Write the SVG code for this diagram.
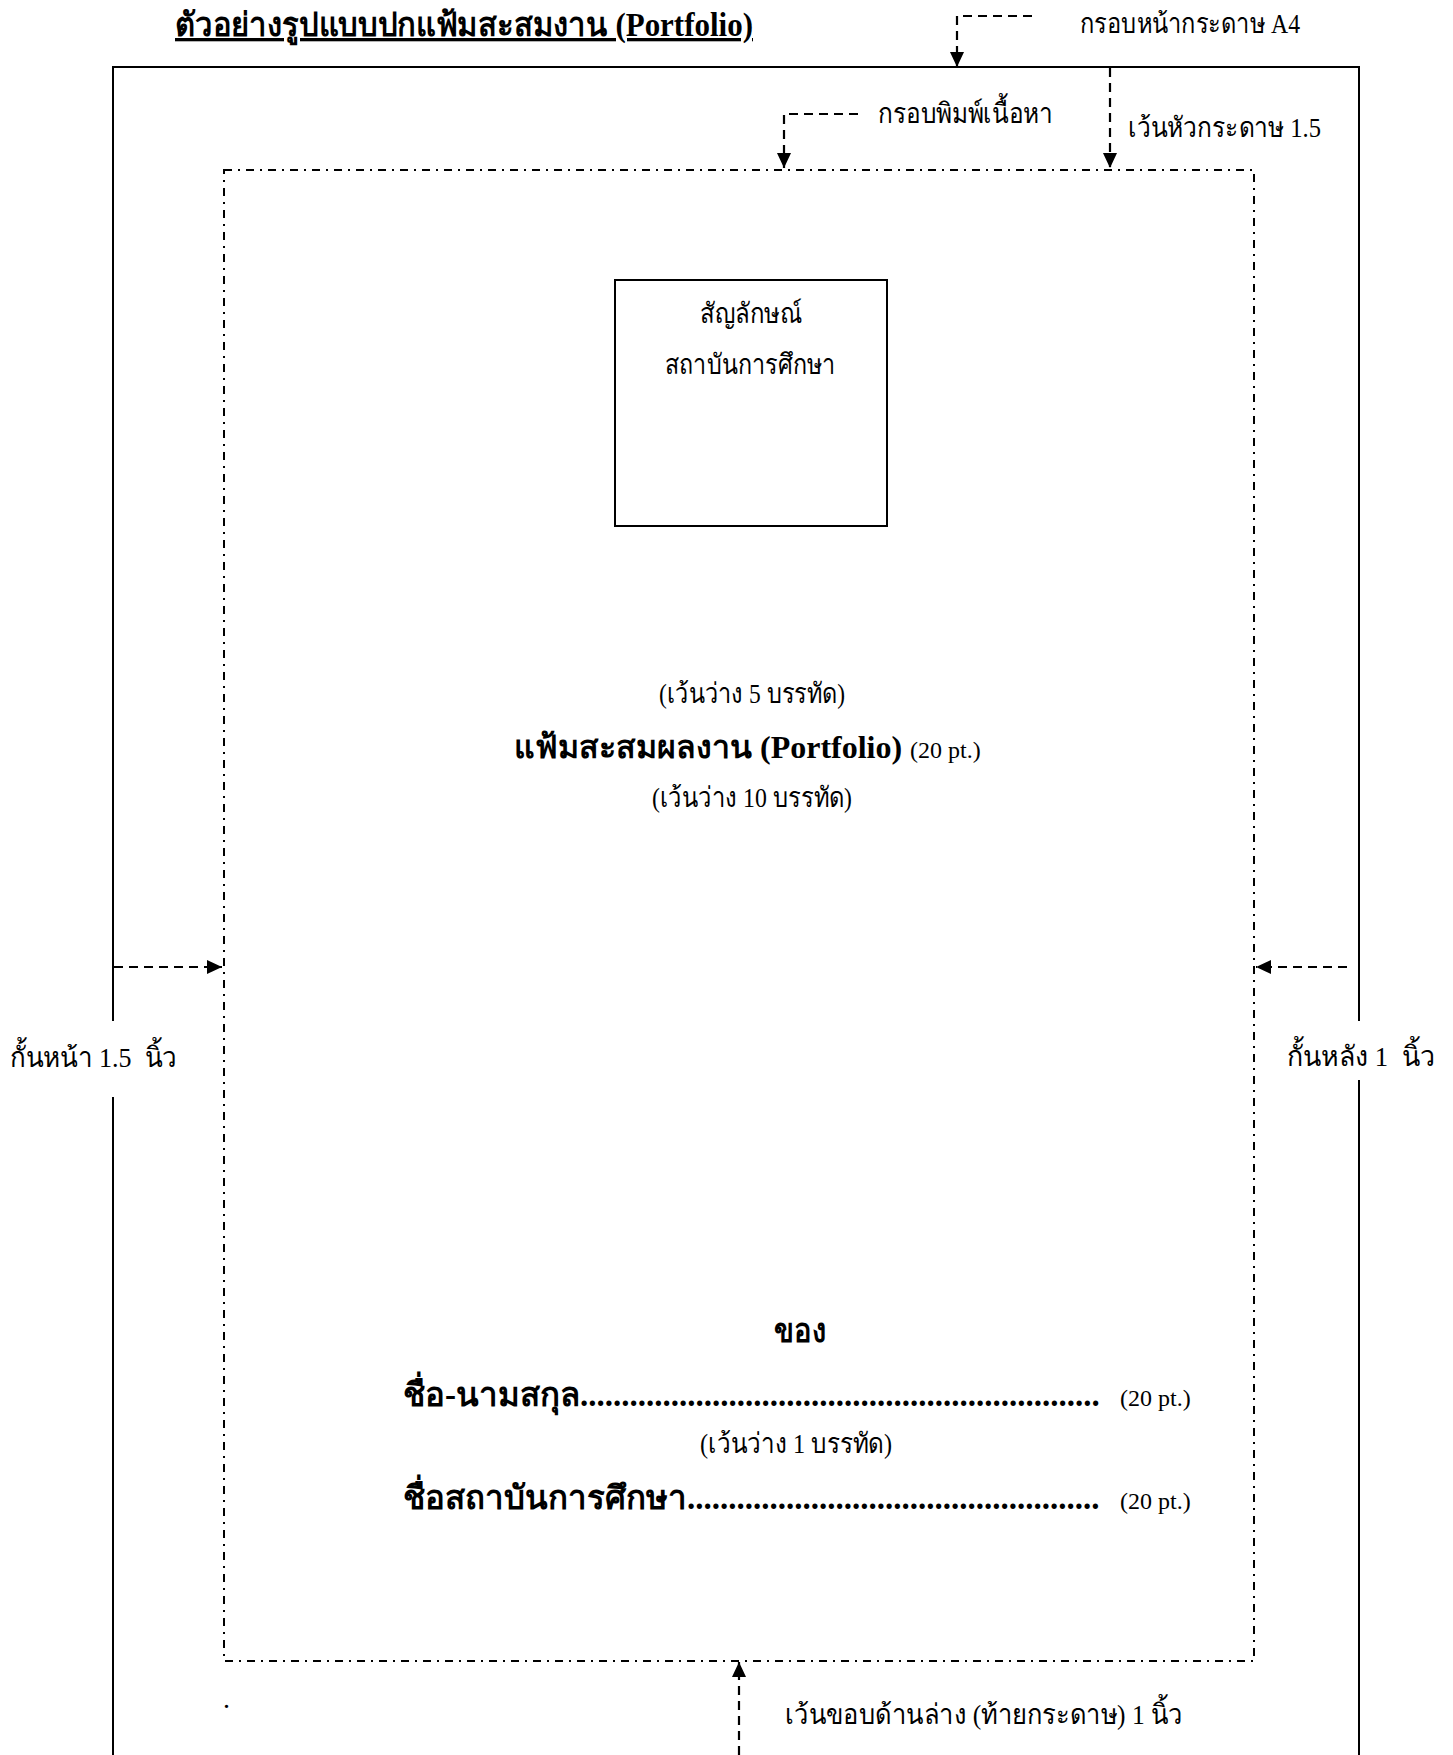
<svg xmlns="http://www.w3.org/2000/svg" width="1453" height="1755" viewBox="0 0 1453 1755">
<style>
text{font-family:"Liberation Serif",serif;fill:#000;}
.t{font-size:28px;}
.s{font-size:24px;}
.b{font-weight:bold;}
.frame{fill:none;stroke:#000;stroke-width:2;}
.inner{fill:none;stroke:#000;stroke-width:2;stroke-dasharray:8 6 2 6;}
.conn{fill:none;stroke:#000;stroke-width:2.2;stroke-dasharray:9 6;}
</style>
<defs>
<marker id="arr" viewBox="0 0 15 14" refX="15" refY="7" markerWidth="15" markerHeight="14" orient="auto" markerUnits="userSpaceOnUse">
<path d="M0,0 L15,7 L0,14 z" fill="#000"/>
</marker>
</defs>
<rect width="1453" height="1755" fill="#fff"/>
<g id="title">
<text x="175" y="36" class="b" font-size="33" text-decoration="underline" textLength="578" lengthAdjust="spacingAndGlyphs">ตัวอย่างรูปแบบปกแฟ้มสะสมงาน (Portfolio)</text>
</g>
<g id="page-frame">
<path class="frame" d="M113,1021 V67 H1359 V1021"/>
<path class="frame" d="M113,1097 V1755"/>
<path class="frame" d="M1359,1080 V1755"/>
</g>
<g id="print-frame">
<rect class="inner" x="224" y="170" width="1030" height="1491"/>
</g>
<g id="logo">
<rect class="frame" x="615" y="280" width="272" height="246"/>
<text class="t" x="751" y="323" text-anchor="middle" textLength="102" lengthAdjust="spacingAndGlyphs">สัญลักษณ์</text>
<text class="t" x="750" y="374" text-anchor="middle" textLength="170" lengthAdjust="spacingAndGlyphs">สถาบันการศึกษา</text>
</g>
<g id="label-a4"><text class="t" x="1080" y="33" textLength="220" lengthAdjust="spacingAndGlyphs">กรอบหน้ากระดาษ A4</text></g>
<g id="label-print"><text class="t" x="878" y="123" textLength="175" lengthAdjust="spacingAndGlyphs">กรอบพิมพ์เนื้อหา</text></g>
<g id="label-header"><text class="t" x="1128" y="137" textLength="193" lengthAdjust="spacingAndGlyphs">เว้นหัวกระดาษ 1.5</text></g>
<g id="label-left"><text class="t" x="10" y="1067" xml:space="preserve" textLength="167" lengthAdjust="spacingAndGlyphs">กั้นหน้า 1.5  นิ้ว</text></g>
<g id="label-right"><text class="t" x="1287" y="1066" xml:space="preserve" textLength="148" lengthAdjust="spacingAndGlyphs">กั้นหลัง 1  นิ้ว</text></g>
<g id="label-bottom"><text class="t" x="785" y="1724" textLength="398" lengthAdjust="spacingAndGlyphs">เว้นขอบด้านล่าง (ท้ายกระดาษ) 1 นิ้ว</text></g>
<g id="content">
<text class="t" x="659" y="703" textLength="186" lengthAdjust="spacingAndGlyphs">(เว้นว่าง 5 บรรทัด)</text>
<text class="b" font-size="32" x="514" y="758">แฟ้มสะสมผลงาน (Portfolio)</text>
<text class="s" x="910" y="758">(20 pt.)</text>
<text class="t" x="652" y="807" textLength="200" lengthAdjust="spacingAndGlyphs">(เว้นว่าง 10 บรรทัด)</text>
<text class="b" font-size="33" x="774" y="1342" textLength="52" lengthAdjust="spacingAndGlyphs">ของ</text>
<text class="b" font-size="33" x="403" y="1406">ชื่อ-นามสกุล...............................................................</text>
<text class="s" x="1120" y="1406">(20 pt.)</text>
<text class="t" x="700" y="1453" textLength="192" lengthAdjust="spacingAndGlyphs">(เว้นว่าง 1 บรรทัด)</text>
<text class="b" font-size="33" x="403" y="1509">ชื่อสถาบันการศึกษา..................................................</text>
<text class="s" x="1120" y="1509">(20 pt.)</text>
<text class="t" x="223" y="1708">.</text>
</g>
<g id="connectors">
<path class="conn" d="M1032,16 H957 V67" marker-end="url(#arr)"/>
<path class="conn" d="M858,114 H784 V168" marker-end="url(#arr)"/>
<path class="conn" d="M1110,68 V168" marker-end="url(#arr)"/>
<path class="conn" d="M114,967 H222" marker-end="url(#arr)"/>
<path class="conn" d="M1347,967 H1256" marker-end="url(#arr)"/>
<path class="conn" d="M739,1755 V1662" marker-end="url(#arr)"/>
</g>
</svg>
